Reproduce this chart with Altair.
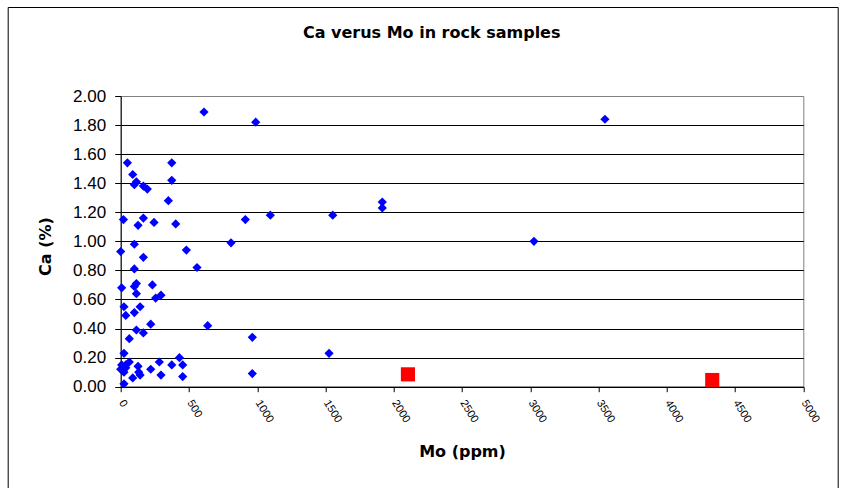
import altair as alt
import pandas as pd

# Blue series (Mo ppm, Ca %)
mo_blue = [610, 989, 49, 374, 88, 115, 100, 166, 195, 374,
           349, 1916, 1916, 20, 166, 127, 244, 403, 913, 1096,
           1553, 100, 0, 808, 166, 481, 100, 559, 7, 115,
           100, 232, 115, 256, 295, 24, 37, 100, 142, 115,
           166, 220, 637, 63, 964, 24, 1526, 430, 7, 37,
           63, 37, 24, 0, 127, 132, 142, 220, 283, 295,
           374, 454, 454, 88, 24, 964, 3547, 3027]
ca_blue = [1.89, 1.82, 1.54, 1.54, 1.46, 1.41, 1.39, 1.38, 1.36, 1.42,
           1.28, 1.27, 1.23, 1.15, 1.16, 1.11, 1.13, 1.12, 1.15, 1.18,
           1.18, 0.98, 0.93, 0.99, 0.89, 0.94, 0.81, 0.82, 0.68, 0.71,
           0.69, 0.70, 0.64, 0.61, 0.63, 0.55, 0.49, 0.51, 0.55, 0.39,
           0.37, 0.43, 0.42, 0.33, 0.34, 0.23, 0.23, 0.20, 0.15, 0.15,
           0.17, 0.13, 0.10, 0.12, 0.14, 0.10, 0.08, 0.12, 0.17, 0.08,
           0.15, 0.15, 0.07, 0.06, 0.02, 0.09, 1.84, 1.00]

# Red series
mo_red = [2104, 4333]
ca_red = [0.085, 0.046]

x_ticks = [0, 500, 1000, 1500, 2000, 2500, 3000, 3500, 4000, 4500, 5000]
y_ticks = [0.0, 0.2, 0.4, 0.6, 0.8, 1.0, 1.2, 1.4, 1.6, 1.8, 2.0]
title_text = ["Ca verus Mo in rock samples"]

blue = pd.DataFrame({"Mo": mo_blue, "Ca": ca_blue})
red = pd.DataFrame({"Mo": mo_red, "Ca": ca_red})

FONT = "Liberation Sans"
BOLD = "DejaVu Sans"

x_enc = alt.X("Mo:Q",
              scale=alt.Scale(domain=[0, 5000], nice=False),
              axis=alt.Axis(values=x_ticks, format="d", title="Mo (ppm)", grid=False,
                            labelAngle=58, labelAlign="left", labelBaseline="middle",
                            labelFontSize=11, labelPadding=9, labelOverlap=False,
                            titleFontSize=16, titleFontWeight="bold", titleFont=BOLD,
                            titleY=57, domainColor="black", tickColor="black",
                            tickSize=5))
y_enc = alt.Y("Ca:Q",
              scale=alt.Scale(domain=[0, 2], nice=False),
              axis=alt.Axis(values=y_ticks, format=".2f", title="Ca (%)",
                            labelFontSize=17, labelPadding=9, labelOverlap=False,
                            titleFontSize=16, titleFontWeight="bold", titleFont=BOLD,
                            titleX=-67, titleY=150,
                            gridColor={"condition": {"test": "datum.value >= 1.99", "value": "#808080"},
                                       "value": "black"},
                            domainColor="black", tickColor="black", tickSize=6))

pts_blue = alt.Chart(blue).mark_point(shape="diamond", filled=True, size=85,
                                      color="#0000FF", opacity=1).encode(x=x_enc, y=y_enc)
pts_red = alt.Chart(red).mark_point(shape="square", filled=True, size=200,
                                    color="#FF0000", opacity=1).encode(x=x_enc, y=y_enc)

frame = alt.Chart(pd.DataFrame({"a": [0]})).mark_rect(
    fillOpacity=0, stroke="black", strokeWidth=1
).encode(x=alt.value(-112.5), x2=alt.value(717.5), y=alt.value(-88.5), y2=alt.value(400))

title = alt.Chart(pd.DataFrame({"t": title_text})).mark_text(
    font=BOLD, fontSize=16, fontWeight="bold", color="black", baseline="middle", align="center"
).encode(text="t:N", x=alt.value(311), y=alt.value(-63))

chart = alt.layer(frame, pts_blue, pts_red, title).properties(
    width=682.6, height=290.7,
    autosize=alt.AutoSizeParams(type="none"),
    padding={"left": 120.7, "top": 96, "right": 43.7, "bottom": 101.3},
).configure(font=FONT).configure_view(
    stroke="#808080", strokeWidth=1
).configure_axis(
    labelFont=FONT, labelColor="black", titleColor="black"
)

chart.save("out.html", embed_options={"renderer": "svg", "actions": False})
